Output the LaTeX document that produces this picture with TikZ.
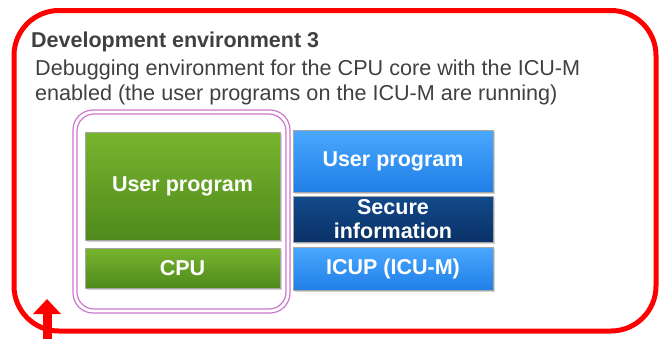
\documentclass[tikz,border=0pt]{standalone}
\usepackage{fontspec}
\setmainfont{Liberation Sans}
\usetikzlibrary{arrows.meta,shadows}
\definecolor{redline}{HTML}{FF0000}
\definecolor{txt}{HTML}{404040}
\definecolor{gtop}{HTML}{78B52E}
\definecolor{gbot}{HTML}{4F8A1C}
\definecolor{btop}{HTML}{4AA8FF}
\definecolor{bbot}{HTML}{1F7FE6}
\definecolor{ntop}{HTML}{124A8C}
\definecolor{nbot}{HTML}{0A3166}
\definecolor{purp}{HTML}{CC77CC}
\tikzset{
  box/.style={draw=black!35, line width=0.6pt, inner sep=0pt, text=white,
    font=\bfseries\fontsize{21.5}{23}\selectfont, align=center,
    drop shadow={shadow xshift=1.5pt, shadow yshift=-1.5pt, opacity=0.35}},
  gbox/.style={box, top color=gtop, bottom color=gbot},
  bbox/.style={box, top color=btop, bottom color=bbot},
  nbox/.style={box, top color=ntop, bottom color=nbot},
}
\begin{document}
\begin{tikzpicture}[x=1pt,y=-1pt]
\useasboundingbox (0,0) rectangle (659,338);
% outer frame
\draw[redline, line width=5pt, rounded corners=45pt] (14,10.5) rectangle (656,331);
% arrow
\coordinate (arrS) at (47,345);
\coordinate (arrE) at (47,299);
\draw[redline, line width=9pt, -{Triangle[width=27pt,length=15pt]}] (arrS) -- (arrE);
% titles
\node[anchor=base west, text=txt, font=\bfseries\fontsize{21.5}{23}\selectfont, inner sep=0pt] (title) at (31,47) {Development environment 3};
\node[anchor=base west, text=txt, font=\fontsize{21.6}{25}\selectfont, align=left, inner sep=0pt] (desc) at (35,100) {Debugging environment for the CPU core with the ICU-M\\enabled (the user programs on the ICU-M are running)};
% purple double frame
\draw[purp, line width=1.2pt, rounded corners=20pt] (73,110) rectangle (290,313);
\draw[purp, line width=1.2pt, rounded corners=17pt] (77,114) rectangle (286,309);
% green boxes
\node[gbox, minimum width=195pt, minimum height=108pt] (gup) at (182.5,186) {User program};
\node[gbox, minimum width=195pt, minimum height=40pt] (cpu) at (182.5,268) {CPU};
% blue boxes
\node[bbox, minimum width=200pt, minimum height=62pt] (bup) at (393,161) {User program};
\node[nbox, minimum width=200pt, minimum height=46pt, font=\bfseries\fontsize{21.5}{24}\selectfont] (sec) at (393,219) {Secure\\information};
\node[bbox, minimum width=200pt, minimum height=43pt] (icup) at (393,268.5) {ICUP (ICU-M)};
\end{tikzpicture}
\end{document}
